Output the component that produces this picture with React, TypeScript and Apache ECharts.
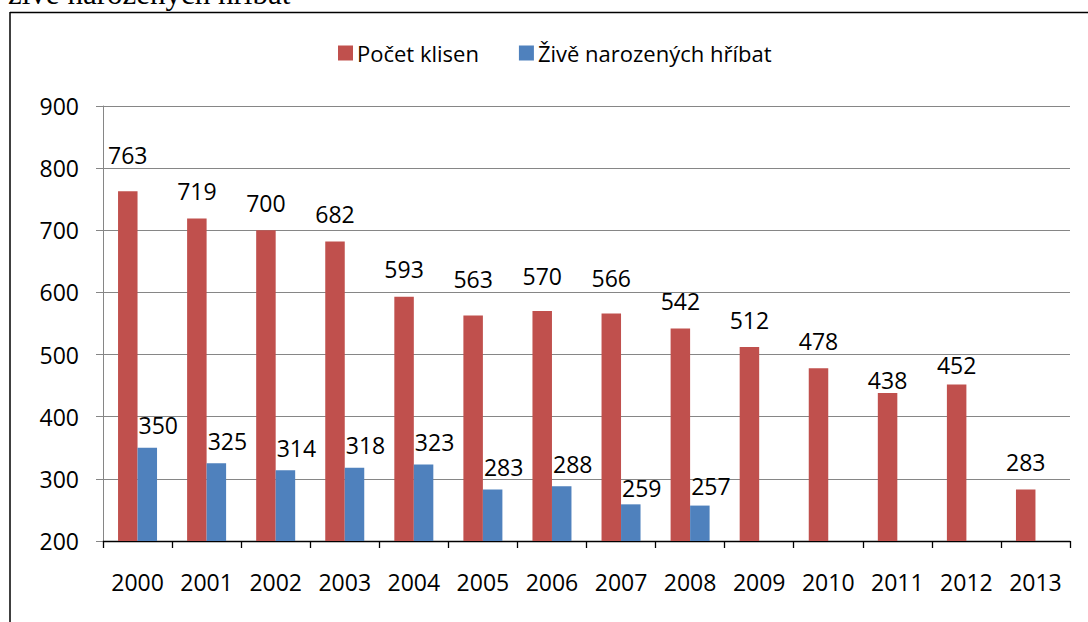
import React, { useEffect, useRef } from "react";
import * as echarts from "echarts";

const years = ["2000", "2001", "2002", "2003", "2004", "2005", "2006", "2007", "2008", "2009", "2010", "2011", "2012", "2013"];
const klisny = [763, 719, 700, 682, 593, 563, 570, 566, 542, 512, 478, 438, 452, 283];
const hribata = [350, 325, 314, 318, 323, 283, 288, 259, 257, null, null, null, null, null];
const seriesNames = ["Počet klisen", "Živě narozených hříbat"];
const titleText = "živě narozených hříbat";

// vertical nudges of individual data labels (as placed in the original)
const redLabelShift = [-9, 0, 0, 0, 0, -9, -8, -8, 0, 0, 0, 14, 8, 0];
const blueLabelShift = [0, 0, 0, 0, 0, 0, 0, 6, 3, 0, 0, 0, 0, 0];

const FONT = "Open Sans";
const FS = 23;

export default function App() {
  const ref = useRef<HTMLDivElement>(null);
  useEffect(() => {
    if (!ref.current) return;
    const chart = echarts.init(ref.current, undefined, { renderer: "svg" });
    chart.setOption({
      animation: false,
      backgroundColor: "#ffffff",
      textStyle: { fontFamily: FONT },
      graphic: [
        {
          type: "text",
          left: 8,
          top: -22,
          style: { text: titleText, font: "31px 'Liberation Serif'", fill: "#000" },
        },
        {
          type: "line",
          shape: { x1: 10, y1: 12.5, x2: 1088, y2: 12.5 },
          style: { stroke: "#000", lineWidth: 1.5 },
        },
        {
          type: "line",
          shape: { x1: 10, y1: 12, x2: 10, y2: 622 },
          style: { stroke: "#000", lineWidth: 1.5 },
        },
      ],
      legend: {
        top: 37,
        left: 333,
        itemWidth: 15,
        itemHeight: 15,
        itemGap: 40,
        icon: "rect",
        textStyle: { fontSize: 22, color: "#000", fontFamily: FONT, padding: [0, 0, 0, -1] },
        data: seriesNames,
      },
      grid: { left: 103, right: 18, top: 106, bottom: 81, containLabel: false },
      xAxis: {
        type: "category",
        data: years,
        axisLine: { lineStyle: { color: "#000", width: 1.3 } },
        axisTick: { show: true, length: 7, lineStyle: { color: "#000", width: 1.3 } },
        axisLabel: { fontSize: FS, color: "#000", margin: 29, fontFamily: FONT },
      },
      yAxis: {
        type: "value",
        min: 200,
        max: 900,
        interval: 100,
        axisLine: { show: true, lineStyle: { color: "#868686", width: 1 } },
        axisTick: { show: true, length: 7, lineStyle: { color: "#868686" } },
        axisLabel: { fontSize: FS, color: "#000", margin: 24, fontFamily: FONT },
        splitLine: { lineStyle: { color: "#868686", width: 1 } },
      },
      series: [
        {
          name: seriesNames[0],
          type: "bar",
          data: klisny.map((v, i) => ({ value: v, label: { offset: [0, redLabelShift[i]] } })),
          barWidth: 19.5,
          barGap: "0%",
          itemStyle: { color: "#C0504D" },
          label: {
            show: true,
            position: "top",
            distance: 16,
            fontSize: FS,
            color: "#000",
            fontFamily: FONT,
          },
        },
        {
          name: seriesNames[1],
          type: "bar",
          data: hribata.map((v, i) =>
            v == null ? null : { value: v, label: { offset: [11, blueLabelShift[i]] } }
          ),
          barWidth: 19.5,
          barGap: "0%",
          itemStyle: { color: "#4F81BD" },
          label: {
            show: true,
            position: "top",
            distance: 11,
            fontSize: FS,
            color: "#000",
            fontFamily: FONT,
          },
        },
      ],
    });
    return () => chart.dispose();
  }, []);
  return (
    <div
      ref={ref}
      style={{ position: "fixed", left: 0, top: 0, width: 1088, height: 622, background: "#fff" }}
    />
  );
}
